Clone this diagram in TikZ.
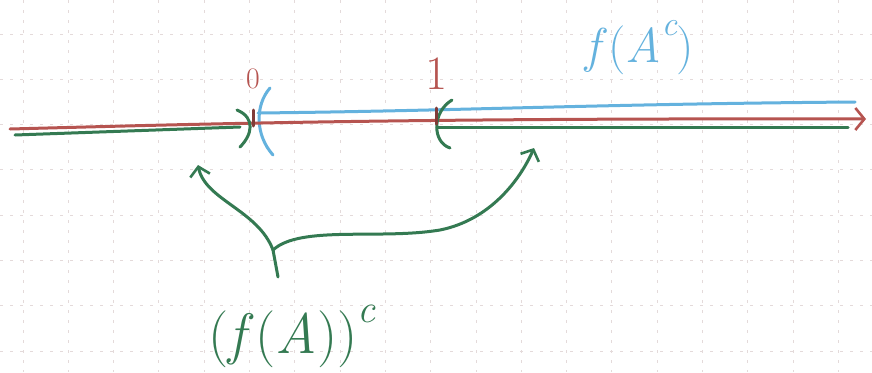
\documentclass[tikz,border=0pt]{standalone}
\usetikzlibrary{arrows.meta}
\definecolor{redpen}{RGB}{182,84,80}
\definecolor{bluepen}{RGB}{100,178,222}
\definecolor{greenpen}{RGB}{52,122,82}
\definecolor{gridc}{RGB}{228,218,218}
\newcommand{\supc}{\raisebox{0.55em}{\scalebox{0.7}{\itshape c}}}
\tikzset{
  pen/.style={line width=3pt, line cap=round, line join=round},
  gridline/.style={gridc, line width=0.9pt, dash pattern=on 3pt off 7pt},
  barb/.style={-{Straight Barb[length=9pt,width=20pt,line width=2.6pt]}},
}
\begin{document}
\begin{tikzpicture}[x=1pt,y=-1pt]
\useasboundingbox[fill=white] (0,0) rectangle (872,372);
% grid
\foreach \k in {0,...,18} {\draw[gridline] ({23+45.3*\k},0) -- ({23+45.3*\k},372);}
\foreach \k in {0,...,7} {\draw[gridline] (0,{34+45.3*\k}) -- (872,{34+45.3*\k});}
% key points
\coordinate (rl) at (10,129);
\coordinate (rr) at (866,119);
% blue set f(A^c)
\draw[pen, bluepen] (258,113) .. controls (450,111) and (600,104) .. (855,102);
\draw[pen, bluepen] (270,88) .. controls (255,105) and (255,135) .. (273,155);
% red axis
\draw[pen, redpen, -{Straight Barb[length=9pt,width=22pt,line width=2.6pt]}] (rl) .. controls (200,124) and (400,118) .. (rr);
% green complement
\draw[pen, greenpen] (15,135) -- (240,127);
\draw[pen, greenpen] (437,127) -- (848,127);
\draw[pen, greenpen] (237,110) .. controls (256,118) and (252,135) .. (240,147);
\draw[pen, greenpen] (452,100) .. controls (432,112) and (432,142) .. (450,148);
% ticks
\draw[pen, redpen!70!black] (253,110) -- (253,126);
\draw[pen, redpen!70!black] (436,108) -- (436,124);
% labels
\node[redpen, font=\fontsize{48pt}{48pt}\selectfont] (l0) at (253,79) {\scalebox{0.62}{0}};
\node[redpen, font=\fontsize{48pt}{48pt}\selectfont] (l1) at (437,74) {1};
\node[bluepen, font=\fontsize{49pt}{49pt}\selectfont] (fac) at (640,48) {{\itshape f\,}({\itshape A}\supc)};
\node[greenpen, font=\fontsize{57pt}{57pt}\selectfont] (fa) at (292,336) {({\itshape f\,}({\itshape A}))\supc};
% arrows
\coordinate (br) at (273,250);
\coordinate (tl) at (198,165);
\coordinate (tr) at (534,148);
\draw[pen, greenpen] (278,277) -- (br);
\draw[pen, greenpen, barb] (br) .. controls (258,210) and (205,200) .. (tl);
\draw[pen, greenpen, barb] (br) .. controls (300,225) and (380,240) .. (440,230) .. controls (490,220) and (520,180) .. (tr);
\end{tikzpicture}
\end{document}
